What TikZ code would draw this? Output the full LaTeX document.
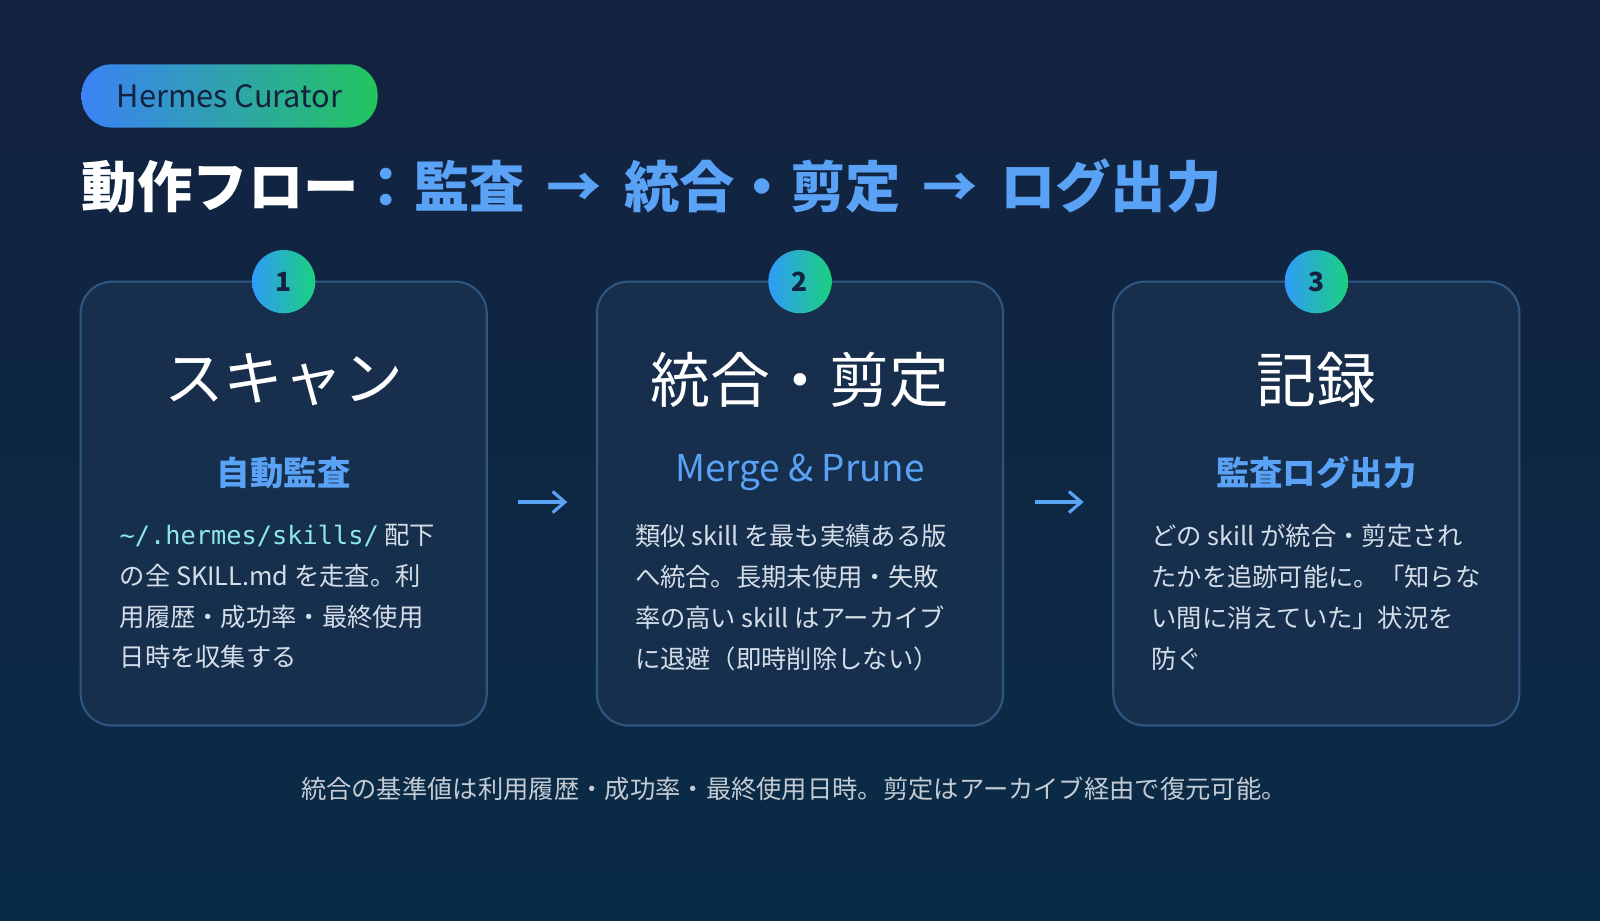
\documentclass[tikz,border=0pt]{standalone}
\usepackage{fontspec}
\setmainfont{Noto Sans CJK JP}
\newfontfamily\monofont{DejaVu Sans Mono}
\usetikzlibrary{positioning,arrows.meta}
\definecolor{bgA}{HTML}{13223F}
\definecolor{bgB}{HTML}{0A2B47}
\definecolor{cardfill}{HTML}{1A3250}
\definecolor{cardline}{HTML}{2F5680}
\definecolor{accent}{HTML}{5AA2F6}
\definecolor{pathcol}{HTML}{8EE6E8}
\definecolor{bodytext}{HTML}{D5DEE8}
\definecolor{gradA}{HTML}{3B82F6}
\definecolor{gradB}{HTML}{22C55E}
\tikzset{
  card/.style={draw=cardline, line width=1.2pt, fill=cardfill, fill opacity=0.75, rounded corners=18pt},
  numdot/.style={circle, minimum size=36pt, inner sep=0pt, left color=gradA!80!cyan, right color=gradB!80!cyan, text=bgA, font=\bfseries\fontsize{15}{15}\selectfont},
  cardtitle/.style={text=white, font=\fontsize{34}{34}\selectfont},
  cardsub/.style={text=accent, font=\bfseries\fontsize{19}{19}\selectfont},
  cardbody/.style={text=bodytext, anchor=north west, align=left, inner sep=0pt, font=\fontsize{14.4}{23.3}\selectfont},
  flowarrow/.style={draw=accent, line width=1.8pt, -{Straight Barb[length=7pt,width=12pt]}}
}
\begin{document}
\begin{tikzpicture}[x=0.0204cm,y=-0.0204cm]
\useasboundingbox (0,0) rectangle (1568,901.6);
\shade[overlay, top color=bgA, bottom color=bgB] (0,0) rectangle (1568,901.6);
% badge
\shade[rounded corners=17pt, left color=gradA, right color=gradB] (80,63) rectangle (370,125);
\node[text=bgA, font=\fontsize{17.5}{17.5}\selectfont] (badge) at (225,94) {Hermes Curator};
% title
\node[anchor=west, inner sep=0pt, font=\bfseries\fontsize{31.5}{31.5}\selectfont] (title) at (80,182)
  {\textcolor{white}{動作フロー}\textcolor{accent}{：監査 \,→\, 統合・剪定 \,→\, ログ出力}};
% cards
\foreach \cx/\k in {278/1,784/2,1290/3}{
  \draw[card] (\cx-199,276) rectangle (\cx+199,711);
  \node[numdot] (n\k) at (\cx,276) {\k};
}
\node[cardtitle] (t1) at (278,372) {スキャン};
\node[cardtitle] (t2) at (784,372) {統合・剪定};
\node[cardtitle] (t3) at (1290,372) {記録};
\node[cardsub] (s1) at (278,463) {自動監査};
\node[cardsub] (s2) at (784,463) {\mdseries\fontsize{21}{21}\selectfont Merge \& Prune};
\node[cardsub] (s3) at (1290,463) {監査ログ出力};
\node[cardbody] (b1) at (117,513) {{\monofont\textcolor{pathcol}{\textasciitilde/.hermes/skills/}} 配下\\の全 SKILL.md を走査。利\\用履歴・成功率・最終使用\\日時を収集する};
\node[cardbody] (b2) at (622,513) {類似 skill を最も実績ある版\\へ統合。長期未使用・失敗\\率の高い skill はアーカイブ\\に退避（即時削除しない）};
\node[cardbody] (b3) at (1128,513) {どの skill が統合・剪定され\\たかを追跡可能に。「知らな\\い間に消えていた」状況を\\防ぐ};
% arrows
\coordinate (a1s) at (508,492); \coordinate (a1e) at (556,492);
\coordinate (a2s) at (1014,492); \coordinate (a2e) at (1062,492);
\draw[flowarrow] (a1s) -- (a1e);
\draw[flowarrow] (a2s) -- (a2e);
% footer
\node[text=bodytext!80!gray, font=\fontsize{14.4}{14.4}\selectfont] (foot) at (778,773) {統合の基準値は利用履歴・成功率・最終使用日時。剪定はアーカイブ経由で復元可能。};
\end{tikzpicture}
\end{document}
